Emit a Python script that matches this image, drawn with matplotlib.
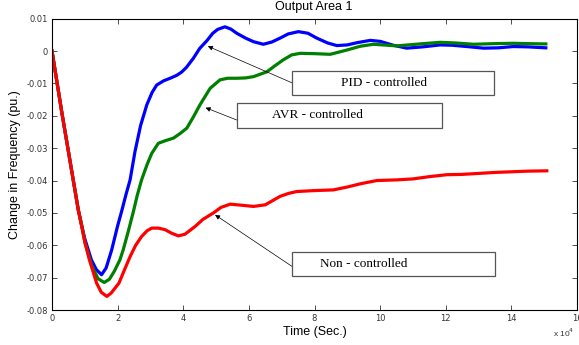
import matplotlib.pyplot as plt
from matplotlib.patches import Rectangle

# time axis is in units of 1e4
t_pid = [0, 0.3, 0.6, 0.8, 0.93, 1.0, 1.2, 1.35, 1.51, 1.65, 1.82, 2.0, 2.12, 2.25, 2.38,
         2.53, 2.7, 2.89, 3.05, 3.19, 3.4, 3.6, 3.8, 3.95, 4.1, 4.31, 4.5, 4.72, 4.9,
         5.05, 5.27, 5.45, 5.63, 5.9, 6.14, 6.44, 6.7, 6.95, 7.2, 7.51, 7.8, 8.07, 8.4,
         8.68, 9.0, 9.3, 9.7, 10.0, 10.4, 10.81, 11.3, 11.83, 12.2, 12.64, 13.15, 13.6,
         14.06, 14.5, 15.05]
f_pid = [0, -0.019, -0.037, -0.049, -0.055, -0.058, -0.0645, -0.0675, -0.0691, -0.067,
         -0.0614, -0.054, -0.0496, -0.0445, -0.0398, -0.031, -0.023, -0.0166, -0.0128,
         -0.0105, -0.0092, -0.0084, -0.0075, -0.0065, -0.005, -0.0022, 0.0008, 0.0032,
         0.0055, 0.0067, 0.0075, 0.0068, 0.0055, 0.004, 0.0029, 0.0021, 0.0028, 0.004,
         0.0053, 0.006, 0.0055, 0.004, 0.0025, 0.0017, 0.0019, 0.0026, 0.0033, 0.003,
         0.0018, 0.0009, 0.0013, 0.0019, 0.0018, 0.0014, 0.0009, 0.001, 0.0014, 0.0013,
         0.001]

t_avr = [0, 0.3, 0.6, 0.8, 0.93, 1.0, 1.2, 1.4, 1.59, 1.75, 1.9, 2.07, 2.17, 2.33, 2.48,
         2.6, 2.73, 2.9, 3.04, 3.24, 3.45, 3.7, 3.9, 4.11, 4.3, 4.51, 4.82, 5.12, 5.35,
         5.63, 5.9, 6.14, 6.55, 6.8, 7.05, 7.3, 7.56, 8.0, 8.48, 8.98, 9.4, 9.8, 10.51,
         11.2, 11.83, 12.3, 12.84, 13.5, 14.06, 14.5, 15.05]
f_avr = [0, -0.019, -0.037, -0.049, -0.055, -0.059, -0.066, -0.0703, -0.0715, -0.0705,
         -0.068, -0.0645, -0.0614, -0.0555, -0.0496, -0.0445, -0.0398, -0.035, -0.0316,
         -0.0285, -0.0277, -0.0269, -0.0255, -0.0238, -0.0205, -0.0166, -0.0115, -0.0089,
         -0.0084, -0.0084, -0.0083, -0.0079, -0.0064, -0.0045, -0.0027, -0.0012, -0.0007,
         -0.0008, -0.001, 0.0003, 0.0015, 0.0021, 0.0016, 0.0022, 0.0027, 0.0025, 0.0021,
         0.0023, 0.0024, 0.0023, 0.0022]

t_non = [0, 0.3, 0.6, 0.8, 1.0, 1.14, 1.36, 1.5, 1.67, 1.8, 2.04, 2.2, 2.38, 2.55, 2.73,
         2.9, 3.04, 3.25, 3.45, 3.65, 3.85, 4.05, 4.36, 4.6, 4.92, 5.15, 5.43, 5.75, 6.14,
         6.5, 6.95, 7.2, 7.46, 8.0, 8.57, 9.0, 9.4, 9.9, 10.5, 11.0, 11.5, 12.03, 12.5,
         13.0, 13.5, 14.0, 14.5, 15.08]
f_non = [0, -0.019, -0.037, -0.049, -0.059, -0.0645, -0.0717, -0.0745, -0.0758, -0.0748,
         -0.0717, -0.0678, -0.0635, -0.06, -0.0573, -0.0555, -0.0547, -0.0547, -0.0552,
         -0.0563, -0.0571, -0.0566, -0.0542, -0.052, -0.05, -0.0483, -0.0473, -0.0476,
         -0.048, -0.0475, -0.0449, -0.044, -0.0434, -0.0431, -0.0429, -0.042, -0.041,
         -0.04, -0.0398, -0.0395, -0.0388, -0.0382, -0.0381, -0.0378, -0.0375, -0.0373,
         -0.0371, -0.037]

xticks = [0, 2, 4, 6, 8, 10, 12, 14, 16]
yticks = [0.01, 0, -0.01, -0.02, -0.03, -0.04, -0.05, -0.06, -0.07, -0.08]
ytick_labels = ['0.01', '0', '-0.01', '-0.02', '-0.03', '-0.04', '-0.05', '-0.06', '-0.07', '-0.08']

fig = plt.figure(figsize=(5.79, 3.45), dpi=100)
ax = fig.add_axes([52/579, 35/345, 525/579, 291.3/345])

ax.plot(t_pid, f_pid, color='#0000ff', lw=2.3, solid_joinstyle='round')
ax.plot(t_avr, f_avr, color='#008000', lw=2.3, solid_joinstyle='round')
ax.plot(t_non, f_non, color='#ff0000', lw=2.3, solid_joinstyle='round')

ax.set_xlim(0, 16)
ax.set_ylim(-0.08, 0.01)
ax.set_xticks(xticks)
ax.set_yticks(yticks)
ax.set_yticklabels(ytick_labels)
ax.tick_params(direction='in', top=True, right=True, length=3.5, width=0.6,
               labelsize=6, colors='#333333', pad=3)
for s in ax.spines.values():
    s.set_linewidth(0.8)

ax.set_xlabel('Time (Sec.)', fontsize=9, family='Liberation Sans', labelpad=2)
ax.set_ylabel('Change in Frequency (pu.)', fontsize=9, family='Liberation Sans', labelpad=4)
fig.text(314/579, (345-10)/345, 'Output Area 1', fontsize=9, family='Liberation Sans',
         ha='center', va='baseline')
fig.text(553/579, (345-337)/345, r'x 10$^4$', fontsize=6, family='Liberation Sans',
         color='#333333')

# annotation boxes
boxes = [(7.31, -0.01355, 6.17, 0.00741), (5.63, -0.02383, 6.25, 0.00772),
         (7.31, -0.06963, 6.2, 0.00741)]
for x0, y0, w, h in boxes:
    ax.add_patch(Rectangle((x0, y0), w, h, fill=True, facecolor='white',
                           edgecolor='#555555', lw=0.9, zorder=5))

ax.annotate('', xy=(4.75, 0.0015), xytext=(7.31, -0.0098),
            arrowprops=dict(arrowstyle='-|>', color='black', lw=0.5, mutation_scale=7,
                            shrinkA=0, shrinkB=0), zorder=4)
ax.annotate('', xy=(4.68, -0.0175), xytext=(5.63, -0.0213),
            arrowprops=dict(arrowstyle='-|>', color='black', lw=0.5, mutation_scale=7,
                            shrinkA=0, shrinkB=0), zorder=4)
ax.annotate('', xy=(4.97, -0.0506), xytext=(7.31, -0.0665),
            arrowprops=dict(arrowstyle='-|>', color='black', lw=0.5, mutation_scale=7,
                            shrinkA=0, shrinkB=0), zorder=4)

ax.text(10.13, -0.00985, 'PID - controlled', fontsize=9.5, family='Liberation Serif',
        ha='center', va='center', zorder=6)
ax.text(8.09, -0.0198, 'AVR - controlled', fontsize=9.5, family='Liberation Serif',
        ha='center', va='center', zorder=6)
ax.text(9.49, -0.0658, 'Non - controlled', fontsize=9.5, family='Liberation Serif',
        ha='center', va='center', zorder=6)

fig.savefig('out.png', dpi=100)
